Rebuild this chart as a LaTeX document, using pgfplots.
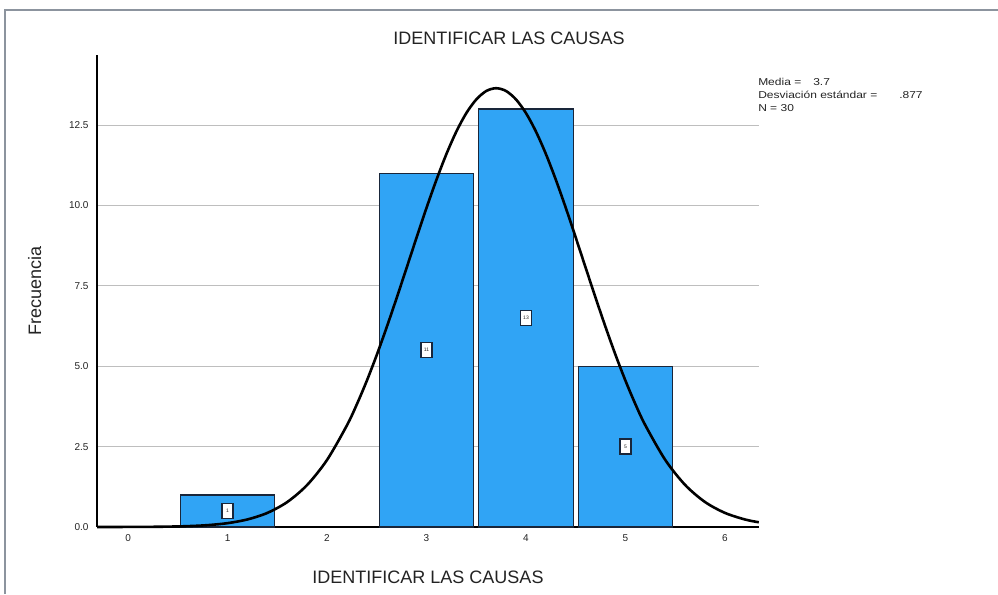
\documentclass[border=0pt]{standalone}
\usepackage{fontspec}
\setmainfont{Liberation Sans}
\usepackage{pgfplots}
\pgfplotsset{compat=1.18}
\usepackage{pgfplotstable}

\definecolor{barblue}{RGB}{48,164,245}
\definecolor{baredge}{RGB}{25,38,58}
\definecolor{gridgray}{RGB}{190,190,190}
\definecolor{framegray}{RGB}{140,148,158}
\definecolor{txt}{RGB}{35,35,35}

% frequency of each answer
\pgfplotstableread{
x f
1 1
3 11
4 13
5 5
}\freqtable

% fitted normal curve (mean 3.7, sd .877, N = 30)
\pgfplotstableread{
x y
-0.31 0.0004
0.0 0.0019
0.2 0.0047
0.4 0.0115
0.6 0.0264
0.8 0.0576
1.0 0.1194
1.2 0.2347
1.4 0.438
1.6 0.776
1.8 1.306
2.0 2.085
2.2 3.161
2.3 3.817
2.4 4.549
2.5 5.351
2.6 6.215
2.7 7.124
2.8 8.060
2.9 9.001
3.0 9.925
3.1 10.799
3.2 11.600
3.3 12.299
3.4 12.872
3.5 13.296
3.6 13.559
3.7 13.647
3.8 13.559
3.9 13.296
4.0 12.872
4.1 12.299
4.2 11.600
4.3 10.799
4.4 9.925
4.5 9.001
4.6 8.060
4.7 7.124
4.8 6.215
4.9 5.351
5.0 4.549
5.1 3.817
5.2 3.161
5.4 2.085
5.6 1.306
5.8 0.776
6.0 0.438
6.2 0.2347
6.34 0.147
}\normalcurve

\begin{document}
\begin{tikzpicture}[x=1pt,y=1pt]
\useasboundingbox (0,0) rectangle (998,594);
\draw[framegray, line width=1.5pt] (5,0) -- (5,584) -- (998,584);

\begin{axis}[
  at={(97pt,67pt)}, anchor=south west,
  scale only axis,
  width=662pt, height=472pt,
  xmin=-0.312, xmax=6.342,
  ymin=0, ymax=14.68,
  axis x line=bottom, axis y line=left,
  axis line style={black, line width=1.8pt, -},
  xtick={0,1,2,3,4,5,6},
  ytick={0,2.5,5,7.5,10,12.5},
  major tick length=0pt,
  ymajorgrids,
  major grid style={gridgray, line width=0.9pt},
  tick label style={font=\fontsize{10}{12}\selectfont, text=txt},
  xticklabel style={yshift=-4pt},
  yticklabel style={xshift=-5pt},
  /pgf/number format/assume math mode=true,
  yticklabel={\pgfmathprintnumber[fixed, fixed zerofill, precision=1]{\tick}},
  xlabel={IDENTIFICAR LAS CAUSAS},
  ylabel={Frecuencia},
  label style={font=\fontsize{18}{20}\selectfont, text=txt},
  xlabel style={at={(axis description cs:0.5,-0.106)}, anchor=center},
  ylabel style={at={(axis description cs:-0.094,0.5)}, anchor=center},
  clip=false,
]
\addplot[ybar, bar width=0.95, fill=barblue, draw=baredge, line width=1.4pt]
  table[x=x, y=f] {\freqtable};

\addplot[only marks, mark=none,
  point meta=explicit,
  nodes near coords={\pgfmathprintnumber{\pgfplotspointmeta}},
  nodes near coords style={anchor=center, fill=white, draw=baredge,
    line width=1.6pt, inner sep=0.5pt, minimum width=11pt, minimum height=15pt,
    font=\fontsize{5}{6}\selectfont, text=txt}]
  table[x=x, y expr=\thisrow{f}/2, meta=f] {\freqtable};

\addplot[black, line width=2.6pt, smooth] table[x=x, y=y] {\normalcurve};
\end{axis}

\node[font=\fontsize{18}{20}\selectfont, text=txt] at (509,556) {IDENTIFICAR LAS CAUSAS};

\begin{scope}[every node/.style={anchor=west, inner sep=0pt, text=txt,
    font=\fontsize{10}{11}\selectfont, xscale=1.2}]
  \node at (758,512) {Media =};
  \node at (813,512) {3.7};
  \node at (758,499) {Desviación estándar =};
  \node at (899,499) {.877};
  \node at (758,486) {N = 30};
\end{scope}
\end{tikzpicture}
\end{document}
